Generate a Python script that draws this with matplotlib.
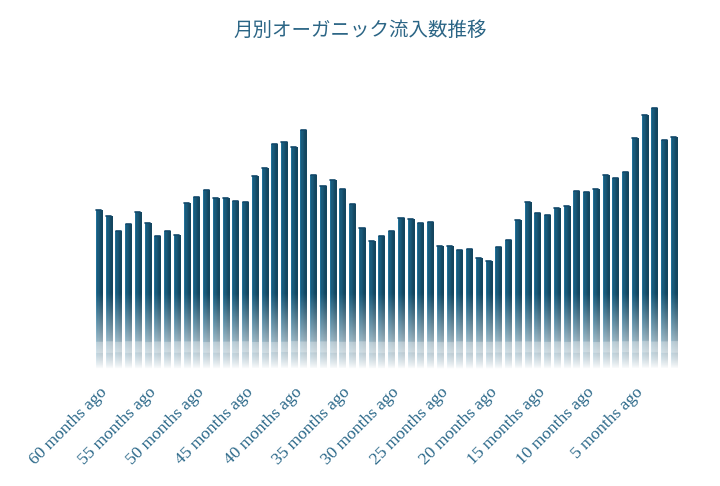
import numpy as np
import matplotlib
matplotlib.use("Agg")
import matplotlib.pyplot as plt
from matplotlib.patches import Rectangle

# ---- data ----
months_ago = list(range(60, 0, -1))
tick_labels = [f"{m} months ago" if m % 5 == 0 else "" for m in months_ago]
visits = [1593, 1533, 1380, 1450, 1573, 1457, 1330, 1380, 1343, 1660,
          1723, 1793, 1707, 1707, 1677, 1670, 1927, 2007, 2247, 2267,
          2220, 2387, 1943, 1833, 1893, 1800, 1647, 1413, 1280, 1327,
          1383, 1513, 1500, 1460, 1473, 1227, 1227, 1193, 1203, 1107,
          1083, 1217, 1293, 1487, 1667, 1557, 1543, 1610, 1633, 1783,
          1767, 1797, 1943, 1907, 1973, 2307, 2540, 2607, 2290, 2323]
title = "月別オーガニック流入数推移"

bar_color = np.array([0x19, 0x58, 0x77]) / 255.0
label_color = "#2b6889"

fig = plt.figure(figsize=(7.2, 4.86), dpi=100)
ax_left = 93.0 / 720
ax_w = (60.2 * 9.746) / 720
ax_bottom = (486 - 369) / 486
ax_h = 270 / 486
ax = fig.add_axes([ax_left, ax_bottom, ax_w, ax_h])
ax.set_xlim(-0.6, 59.6)
ax.set_ylim(0, 2700)

x = np.arange(len(visits))
width = 0.62

nx, ny = 16, 200
hx = np.linspace(0, 1, nx)
shade = 0.8 + 0.45 * np.clip(1 - np.abs(hx - 0.3) * 2.2, 0, 1) * 0.6
shade[:2] = 1.35
for xi, v in zip(x, visits):
    rect = Rectangle((xi - width / 2, 0), width, v, facecolor="none", edgecolor="none")
    ax.add_patch(rect)
    ys = np.linspace(0, v, ny)
    alpha = np.clip(ys / 750.0, 0, 1) ** 0.8
    band = (ys > 160) & (ys < 270)
    img = np.zeros((ny, nx, 4))
    for k in range(3):
        col = np.clip(bar_color[k] * shade, 0, 1)
        img[:, :, k] = col[None, :]
    light = np.where(band, 0.3, 0.0)[:, None]
    img[:, :, :3] = img[:, :, :3] * (1 - light[..., None]) + light[..., None] * 1.0
    img[:, :, 3] = alpha[:, None]
    im = ax.imshow(img, extent=(xi - width / 2, xi + width / 2, 0, v), origin="lower",
                   aspect="auto", interpolation="bilinear", zorder=2)
    im.set_clip_path(rect)
    ax.plot([xi - width / 2 + 0.05, xi + width / 2 - 0.05], [v, v], color="#12486a",
            lw=1.2, solid_capstyle="round", zorder=3)

for s in ax.spines.values():
    s.set_visible(False)
ax.set_yticks([])
ax.set_xticks(x)
ax.set_xticklabels(tick_labels, rotation=45, ha="right", rotation_mode="anchor",
                   family="Liberation Serif", fontsize=12.5, color=label_color)
ax.tick_params(axis="x", length=0, pad=11)

fig.text(0.5, 1 - 30 / 486, title, ha="center", va="center",
         family=["Noto Sans CJK JP", "DejaVu Sans"], fontsize=14, color="#2b6585")

fig.savefig("out.png", dpi=100, facecolor="white")
